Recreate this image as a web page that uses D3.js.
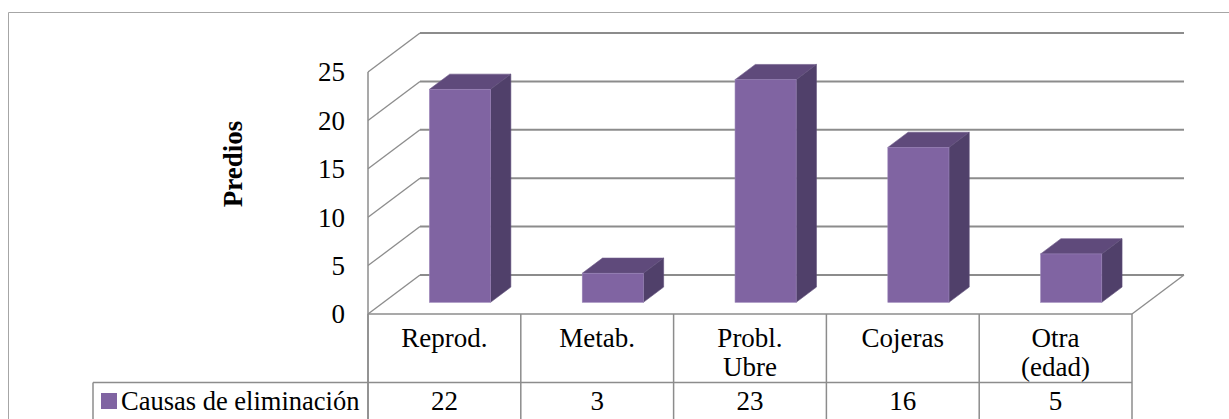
<!DOCTYPE html>
<html>
<head>
<meta charset="utf-8">
<script src="https://cdn.jsdelivr.net/npm/d3@7"></script>
<style>
  html, body { margin: 0; padding: 0; background: #fff; }
  svg { display: block; }
</style>
</head>
<body>
<svg id="chart" width="1229" height="419"></svg>
<script>
// Causes of culling, number of farms (predios) per cause
const categories = ["Reprod.", "Metab.", "Probl. Ubre", "Cojeras", "Otra (edad)"];
const categoryLines = [["Reprod."], ["Metab."], ["Probl.", "Ubre"], ["Cojeras"], ["Otra", "(edad)"]];
const values = [22, 3, 23, 16, 5];
const seriesName = "Causas de eliminación";
const yTicks = [0, 5, 10, 15, 20, 25];
const yTitle = "Predios";

const FONT = "Liberation Serif";
const FS = 27;
const svg = d3.select("#chart");

// Plot geometry: front plane of the 3D box plus the depth offset of the back wall
const x0 = 368, x1 = 1132;
const depthX = 52, depthY = -39;
const barDepth0 = 0.3, barDepth1 = 0.69;

const x = d3.scaleBand().domain(categories).range([x0, x1])
  .paddingInner(0.6).paddingOuter(0.3);
const step = x.step();
const y = d3.scaleLinear().domain([0, 25]).range([314, 72]);

const gridColor = "#8c8c8c";

// Outer chart frame
svg.append("path")
  .attr("d", "M8.5,430 V12.5 H1240")
  .attr("fill", "none").attr("stroke", "#a6a6a6").attr("stroke-width", 1);

// Back-wall gridlines
svg.append("g").selectAll("line").data(yTicks).join("line")
  .attr("x1", x0 + depthX).attr("x2", x1 + depthX)
  .attr("y1", d => y(d) + depthY).attr("y2", d => y(d) + depthY)
  .attr("stroke", gridColor).attr("stroke-width", 2);

// Side-wall gridlines
svg.append("g").selectAll("line").data(yTicks).join("line")
  .attr("x1", x0).attr("x2", x0 + depthX)
  .attr("y1", d => y(d)).attr("y2", d => y(d) + depthY)
  .attr("stroke", gridColor).attr("stroke-width", 1.3);

// Vertical axis edge and right floor edge
svg.append("line").attr("x1", x0).attr("x2", x0).attr("y1", y(25)).attr("y2", 419)
  .attr("stroke", gridColor).attr("stroke-width", 1.5);
svg.append("line").attr("x1", x1).attr("x2", x1 + depthX).attr("y1", y(0)).attr("y2", y(0) + depthY)
  .attr("stroke", gridColor).attr("stroke-width", 1.3);

// Y tick labels
svg.append("g").selectAll("text").data(yTicks).join("text")
  .attr("font-family", FONT)
  .attr("x", 345).attr("y", d => y(d)).attr("dy", "0.35em")
  .attr("text-anchor", "end").attr("font-size", FS)
  .text(d => d);

// Y axis title
svg.append("text")
  .attr("font-family", FONT)
  .attr("transform", `translate(242,164) rotate(-90)`)
  .attr("text-anchor", "middle").attr("font-size", FS).attr("font-weight", "bold")
  .text(yTitle);

// 3D bars
const barFront = "#8064a2", barTop = "#5f4a7b", barSide = "#50406a";
const bars = svg.append("g").selectAll("g").data(categories).join("g");
bars.each(function(c, i) {
  const g = d3.select(this);
  const v = values[i];
  const fx = x(c) + barDepth0 * depthX;
  const fb = y(0) + barDepth0 * depthY;
  const ft = y(v) + barDepth0 * depthY;
  const w = x.bandwidth();
  const ox = (barDepth1 - barDepth0) * depthX;
  const oy = (barDepth1 - barDepth0) * depthY;
  // top face
  g.append("path")
    .attr("d", `M${fx},${ft} L${fx + ox},${ft + oy} L${fx + w + ox},${ft + oy} L${fx + w},${ft} Z`)
    .attr("fill", barTop).attr("stroke", "#6e5a8a").attr("stroke-width", 0.6);
  // side face
  g.append("path")
    .attr("d", `M${fx + w},${ft} L${fx + w + ox},${ft + oy} L${fx + w + ox},${fb + oy} L${fx + w},${fb} Z`)
    .attr("fill", barSide).attr("stroke", "#5e4e78").attr("stroke-width", 0.6);
  // front face
  g.append("rect")
    .attr("x", fx).attr("y", ft).attr("width", w).attr("height", fb - ft)
    .attr("fill", barFront).attr("stroke", "#9a84b8").attr("stroke-width", 0.6);
});

// Data table beneath the plot
const tableColor = "#8c8c8c";
const rowTop = y(0), rowMid = 382.5, rowBottom = 430;
const table = svg.append("g").attr("stroke", tableColor).attr("stroke-width", 1.5);
table.append("line").attr("x1", x0).attr("x2", x1).attr("y1", rowTop).attr("y2", rowTop);
table.append("line").attr("x1", 93).attr("x2", x1).attr("y1", rowMid).attr("y2", rowMid);
table.append("line").attr("x1", 93).attr("x2", 93).attr("y1", rowMid).attr("y2", rowBottom);
table.selectAll(".col").data(d3.range(categories.length + 1)).join("line")
  .attr("x1", i => x0 + i * step).attr("x2", i => x0 + i * step)
  .attr("y1", rowTop).attr("y2", rowBottom);

// Category labels
svg.append("g").selectAll("text").data(categories).join("text")
  .attr("font-family", FONT)
  .attr("x", c => x(c) + x.bandwidth() / 2)
  .attr("y", 346.5)
  .attr("text-anchor", "middle").attr("font-size", FS)
  .each(function(c, i) {
    d3.select(this).selectAll("tspan").data(categoryLines[i]).join("tspan")
      .attr("x", x(c) + x.bandwidth() / 2)
      .attr("dy", (d, j) => j === 0 ? 0 : 29)
      .text(d => d);
  });

// Values row
svg.append("g").selectAll("text").data(values).join("text")
  .attr("font-family", FONT)
  .attr("x", (d, i) => x(categories[i]) + x.bandwidth() / 2)
  .attr("y", 410)
  .attr("text-anchor", "middle").attr("font-size", FS)
  .text(d => d);

// Legend key in the table's header cell
svg.append("rect").attr("x", 101).attr("y", 393).attr("width", 16).attr("height", 16)
  .attr("fill", barFront);
svg.append("text").attr("font-family", FONT)
  .attr("x", 121).attr("y", 410).attr("font-size", 26.5).text(seriesName);
</script>
</body>
</html>
